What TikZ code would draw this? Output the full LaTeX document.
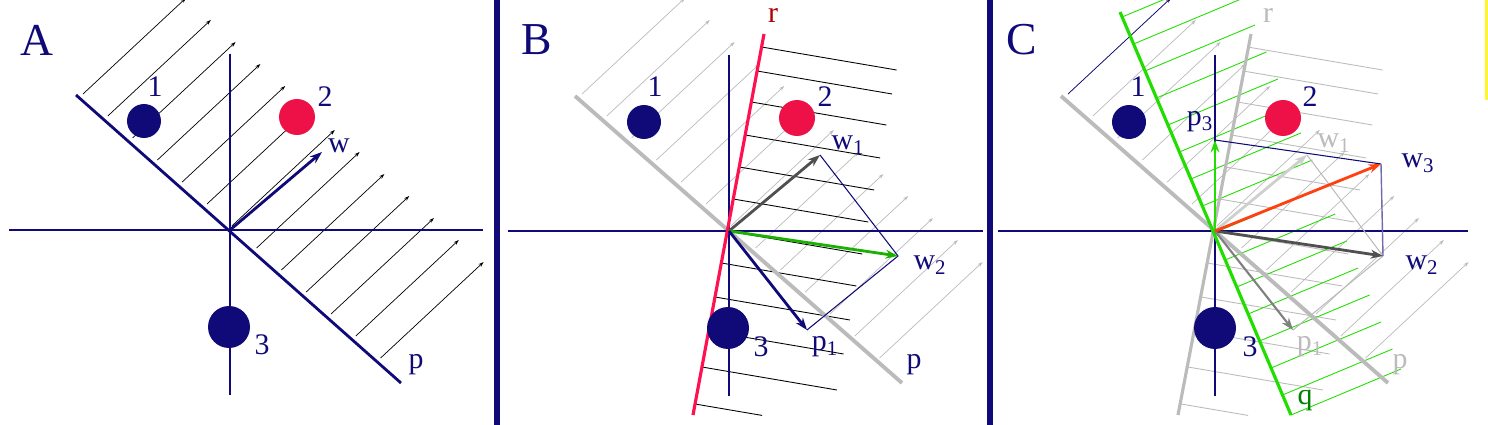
\documentclass[tikz,border=0pt]{standalone}
\usepackage{fontspec}
\setmainfont{Liberation Serif}
\usetikzlibrary{arrows.meta}
\definecolor{navy}{HTML}{0F0A78}
\definecolor{dred}{HTML}{EE1148}
\definecolor{rred}{HTML}{FF1050}
\definecolor{grn}{HTML}{22DD00}
\definecolor{lg}{HTML}{BBBBBB}
\definecolor{dg}{HTML}{505050}
\definecolor{org}{HTML}{FF4010}
\tikzset{
  lab/.style={font=\fontsize{17}{17}\selectfont, text=navy, inner sep=0pt},
  big/.style={font=\fontsize{26}{26}\selectfont, text=navy, inner sep=0pt},
  dot/.style={circle, fill=#1, inner sep=0pt},
  hat/.style={line width=0.4pt, -{Stealth[length=3pt,width=2pt]}},
  axis/.style={navy, line width=1.6pt},
  vec/.style={line width=1.6pt, -{Stealth[length=7pt,width=5pt]}},
}
\newcommand{\phatch}[2]{% shift, colour
  \foreach \i in {0,...,12}{
    \draw[hat,#2] ({#1+83+24.8*\i},{94+22*\i}) -- ++(103,-96);}
}
\newcommand{\rhatch}[2]{%
  \foreach \yy/\len in {47/135,71/135,102/135,135/135,167/135,199/135,231/135,263/135,297/135,331/135,367/135,404/67}{
    \pgfmathsetmacro{\xx}{#1+764-(\yy-34)/381*71}
    \pgfmathsetmacro{\dy}{\len/135*23}
    \draw[#2,line width=0.5pt] (\xx,\yy) -- ++(\len,\dy);}
}
\begin{document}
\begin{tikzpicture}[x=0.02cm,y=-0.02cm]
\useasboundingbox (0,0) rectangle (1488,425);
% ===== Panel A
\begin{scope}
\clip (0,0) rectangle (495,425);
\phatch{0}{black}
\end{scope}
\coordinate (oA) at (230,230);
\draw[navy,line width=1.6pt] (76,95) -- (401,383);
\draw[axis] (9,230) -- (483,230);
\draw[axis] (230,54) -- (230,395);
\draw[vec,navy] (oA) -- (322,152) coordinate (wA);
\node[dot=navy,minimum size=0.68cm] (a1) at (144,121) {};
\node[dot=dred,minimum size=0.72cm] (a2) at (297,117) {};
\node[dot=navy,minimum size=0.84cm] (a3) at (229,327) {};
\node[lab] (la1) at (155,87) {1};
\node[lab] (la2) at (325,97) {2};
\node[lab] (la3) at (262,345) {3};
\node[lab] (law) at (339,146) {w};
\node[lab] (lap) at (416,365) {p};
\node[big] (tA) at (37,40) {A};
\draw[navy,line width=3pt] (497,0) -- (497,425);
% ===== Panel B
\begin{scope}
\clip (499,0) rectangle (988,425);
\phatch{499}{lg}
\rhatch{0}{black}
\end{scope}
\coordinate (oB) at (729,231);
\draw[lg,line width=2.2pt] (575,96) -- (902,383);
\draw[axis] (508,231) -- (983,231);
\draw[axis] (729,55) -- (729,396);
\draw[rred,line width=1.8pt] (764,34) -- (693,415);
\coordinate (w1B) at (820,155);
\coordinate (w2B) at (898,256);
\coordinate (p1B) at (807,330);
\draw[navy,line width=0.6pt] (w1B) -- (w2B) -- (p1B);
\draw[vec,dg] (oB) -- (w1B);
\draw[vec,grn!80!black] (oB) -- (w2B);
\draw[vec,navy] (oB) -- (p1B);
\node[dot=navy,minimum size=0.68cm] (b1) at (644,122) {};
\node[dot=dred,minimum size=0.72cm] (b2) at (797,118) {};
\node[dot=navy,minimum size=0.84cm] (b3) at (728,328) {};
\node[lab] (lb1) at (655,87) {1};
\node[lab] (lb2) at (825,97) {2};
\node[lab] (lb3) at (761,347) {3};
\node[lab] (lbw1) at (848,145) {w\textsubscript{1}};
\node[lab] (lbw2) at (930,265) {w\textsubscript{2}};
\node[lab] (lbp1) at (825,347) {p\textsubscript{1}};
\node[lab] (lbp) at (914,365) {p};
\node[lab,text=red!70!black] (lbr) at (773,15) {r};
\node[big] (tB) at (537,40) {B};
\draw[navy,line width=3pt] (990,0) -- (990,425);
% ===== Panel C
\begin{scope}
\clip (992,0) rectangle (1480,425);
\phatch{985}{lg}
\draw[hat,navy] (1068,94) -- ++(103,-96);
\rhatch{486}{lg}
\foreach \yy in {17,44,71,98,125,152,179,206,233,260,287,314,341,368,395,415}{
  \pgfmathsetmacro{\xx}{1120+(\yy-12)/403*171}
  \draw[grn,line width=0.5pt] (\xx,\yy) -- ++(110,-46);}
\end{scope}
\coordinate (oC) at (1215,231);
\draw[lg,line width=2.2pt] (1061,96) -- (1388,383);
\draw[axis] (998,231) -- (1468,231);
\draw[axis] (1215,55) -- (1215,396);
\draw[lg,line width=1.8pt] (1251,34) -- (1178,415);
\draw[grn,line width=1.8pt] (1120,12) -- (1291,415);
\coordinate (w1C) at (1307,155);
\coordinate (w2C) at (1383,256);
\coordinate (p1C) at (1293,330);
\coordinate (p3C) at (1215,140);
\coordinate (w3C) at (1381,164);
\draw[lg,line width=0.6pt] (w1C) -- (w2C) -- (p1C);
\draw[navy,line width=0.6pt] (p3C) -- (w3C);
\draw[navy!60,line width=0.8pt] (w3C) -- (w2C);
\draw[vec,lg!70!white] (oC) -- (w1C);
\draw[vec,dg] (oC) -- (w2C);
\draw[vec,gray,line width=1.2pt] (oC) -- (p1C);
\draw[vec,grn,line width=1.2pt] (oC) -- (p3C);
\draw[vec,org] (oC) -- (w3C);
\node[dot=navy,minimum size=0.68cm] (c1) at (1129,122) {};
\node[dot=dred,minimum size=0.72cm] (c2) at (1283,118) {};
\node[dot=navy,minimum size=0.84cm] (c3) at (1215,328) {};
\node[lab] (lc1) at (1138,87) {1};
\node[lab] (lc2) at (1310,97) {2};
\node[lab] (lc3) at (1250,347) {3};
\node[lab,text=lg] (lcw1) at (1334,143) {w\textsubscript{1}};
\node[lab] (lcw2) at (1422,265) {w\textsubscript{2}};
\node[lab] (lcw3) at (1418,163) {w\textsubscript{3}};
\node[lab,text=lg] (lcp1) at (1310,347) {p\textsubscript{1}};
\node[lab] (lcp3) at (1200,122) {p\textsubscript{3}};
\node[lab,text=lg] (lcp) at (1400,365) {p};
\node[lab,text=lg] (lcr) at (1268,15) {r};
\node[lab,text=green!50!black] (lcq) at (1305,400) {q};
\node[big] (tC) at (1022,40) {C};
\fill[yellow!80!white] (1485,0) rectangle (1488,100);
\end{tikzpicture}
\end{document}
